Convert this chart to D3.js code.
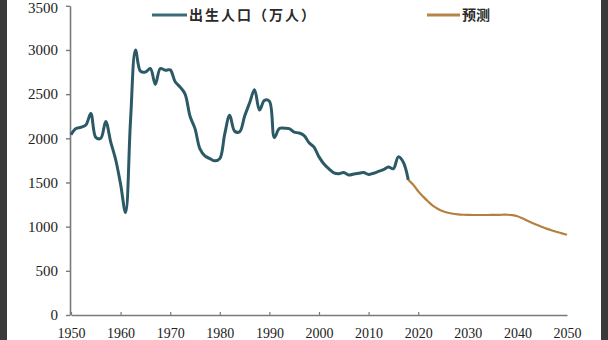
<!DOCTYPE html>
<html><head><meta charset="utf-8">
<script src="https://cdn.jsdelivr.net/npm/d3@7"></script>
<style>
html,body{margin:0;padding:0;background:#fff;}
svg{display:block;}
</style>
</head><body>
<svg id="chart" width="608" height="340"></svg>
<script>
// ---- data ----
const birthYears = [1950,1951,1952,1953,1954,1955,1956,1957,1958,1959,1960,1961,1962,1963,1964,1965,1966,1967,1968,1969,
  1970,1971,1972,1973,1974,1975,1976,1977,1978,1979,1980,1981,1982,1983,1984,1985,1986,1987,1988,1989,
  1990,1991,1992,1993,1994,1995,1996,1997,1998,1999,2000,2001,2002,2003,2004,2005,2006,2007,2008,2009,
  2010,2011,2012,2013,2014,2015,2016,2017,2018];
const birthValues = [2040,2110,2125,2150,2280,2010,2000,2190,1960,1760,1480,1160,2200,3000,2760,2750,2790,2610,2790,2770,
  2775,2640,2580,2500,2250,2110,1880,1800,1770,1745,1770,2050,2260,2080,2075,2250,2400,2550,2320,2430,
  2420,2010,2110,2115,2110,2070,2060,2030,1950,1900,1790,1710,1655,1610,1600,1612,1585,1595,1605,1612,
  1590,1605,1625,1645,1675,1655,1790,1730,1530];
const forecastYears = [2018,2019,2020,2021,2022,2023,2024,2025,2026,2027,2028,2029,2030,2031,2032,2033,2034,2035,2036,2037,
  2038,2039,2040,2041,2042,2043,2044,2045,2046,2047,2048,2049,2050];
const forecastValues = [1530,1475,1400,1340,1285,1235,1200,1175,1158,1146,1139,1135,1133,1132,1132,1132,1132,1133,1134,1135,
  1135,1130,1118,1095,1068,1042,1018,996,975,957,940,924,908];
const xTicks = [1950,1960,1970,1980,1990,2000,2010,2020,2030,2040,2050];
const yTicks = [0,500,1000,1500,2000,2500,3000,3500];
const seriesNames = ["出生人口（万人）","预测"];

// ---- drawing ----
const svg = d3.select("#chart");
const x = d3.scaleLinear().domain([1950,2050]).range([71,567]);
const y = d3.scaleLinear().domain([0,3500]).range([315,5.8]);

// dark side borders (photo frame)
svg.append("rect").attr("x",0).attr("y",0).attr("width",7).attr("height",340).attr("fill","#3a3a3a");
svg.append("rect").attr("x",601).attr("y",0).attr("width",7).attr("height",340).attr("fill","#3a3a3a");

const axisColor = "#7a7a7a";

// y axis
const yAxis = svg.append("g").attr("transform","translate(70,0)")
  .call(d3.axisLeft(y).tickValues(yTicks).tickSizeInner(4).tickSizeOuter(0).tickPadding(8).tickFormat(d3.format("d")));
yAxis.select(".domain").attr("stroke",axisColor).attr("stroke-width",1.6);
yAxis.selectAll(".tick line").attr("stroke",axisColor).attr("stroke-width",1.4);
yAxis.selectAll(".tick text").attr("font-family","'Liberation Serif', serif").attr("font-size",15).attr("fill","#222")
  .attr("dy", d => d === 3500 ? "0.45em" : "0.32em");

// x axis
const xAxis = svg.append("g").attr("transform","translate(0,315)")
  .call(d3.axisBottom(x).tickValues(xTicks).tickSizeInner(-3).tickSizeOuter(0).tickPadding(13).tickFormat(d3.format("d")));
xAxis.select(".domain").attr("stroke",axisColor).attr("stroke-width",1.6);
xAxis.selectAll(".tick line").attr("stroke",axisColor).attr("stroke-width",1.2)
  .attr("display", d => d > 2020 ? "none" : null);
xAxis.selectAll(".tick text").attr("font-family","'Liberation Serif', serif").attr("font-size",14).attr("fill","#222");

const blue = "#2b5a66";
const orange = "#b4803f";

const line = d3.line().x(d => x(d[0])).y(d => y(d[1])).curve(d3.curveCatmullRom.alpha(0.5));

svg.append("path").datum(forecastYears.map((yr,i)=>[yr,forecastValues[i]]))
  .attr("d",line).attr("fill","none").attr("stroke",orange).attr("stroke-width",2.2).attr("stroke-linejoin","round");
svg.append("path").datum(birthYears.map((yr,i)=>[yr,birthValues[i]]))
  .attr("d",line).attr("fill","none").attr("stroke",blue).attr("stroke-width",3).attr("stroke-linejoin","round");

// legend
const leg = svg.append("g");
leg.append("line").attr("x1",152).attr("x2",187).attr("y1",15).attr("y2",15).attr("stroke","#3a6b78").attr("stroke-width",3);
leg.append("text").attr("x",189).attr("y",20).text(seriesNames[0])
  .attr("font-family","'Noto Sans CJK SC', sans-serif").attr("font-weight","bold").attr("font-size",14)
  .attr("letter-spacing",2).attr("fill","#2a2a2a");
leg.append("line").attr("x1",427).attr("x2",460).attr("y1",15).attr("y2",15).attr("stroke","#b8844a").attr("stroke-width",3);
leg.append("text").attr("x",462).attr("y",20).text(seriesNames[1])
  .attr("font-family","'Noto Sans CJK SC', sans-serif").attr("font-weight","bold").attr("font-size",14)
  .attr("fill","#2a2a2a");
</script>
</body></html>
